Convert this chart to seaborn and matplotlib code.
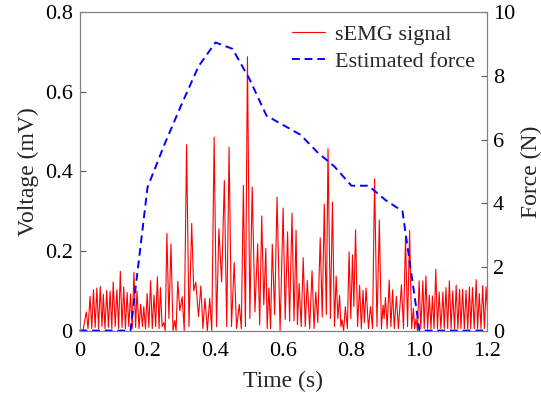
import matplotlib
matplotlib.use("Agg")
import matplotlib.pyplot as plt
import seaborn as sns
import pandas as pd

# sEMG extrema (time in s, voltage in mV)
emg_t = [0.010, 0.020, 0.025, 0.031, 0.036, 0.041, 0.046, 0.051, 0.056, 0.061,
         0.066, 0.070, 0.075, 0.080, 0.085, 0.090, 0.095, 0.099, 0.105, 0.110,
         0.115, 0.120, 0.125, 0.130, 0.135, 0.140, 0.145, 0.150, 0.155, 0.160,
         0.165, 0.169, 0.175, 0.180, 0.185, 0.189, 0.194, 0.199, 0.204, 0.209,
         0.214, 0.219, 0.224, 0.229, 0.234, 0.238, 0.243, 0.248, 0.252, 0.257,
         0.263, 0.269, 0.275, 0.280, 0.284, 0.289, 0.295, 0.302, 0.308, 0.315,
         0.322, 0.330, 0.336, 0.342, 0.350, 0.357, 0.363, 0.369, 0.376, 0.383,
         0.389, 0.396, 0.403, 0.410, 0.418, 0.426, 0.433, 0.440, 0.447, 0.455,
         0.462, 0.470, 0.476, 0.482, 0.488, 0.494, 0.501, 0.508, 0.516, 0.524,
         0.530, 0.536, 0.542, 0.548, 0.552, 0.557, 0.562, 0.567, 0.574, 0.581,
         0.590, 0.599, 0.605, 0.612, 0.618, 0.625, 0.631, 0.637, 0.641, 0.646,
         0.652, 0.658, 0.664, 0.670, 0.677, 0.684, 0.690, 0.695, 0.701, 0.708,
         0.714, 0.720, 0.726, 0.731, 0.738, 0.744, 0.750, 0.755, 0.760, 0.765,
         0.769, 0.772, 0.777, 0.782, 0.788, 0.793, 0.798, 0.803, 0.807, 0.812,
         0.818, 0.824, 0.829, 0.834, 0.838, 0.843, 0.850, 0.856, 0.862, 0.868,
         0.875, 0.882, 0.888, 0.893, 0.896, 0.900, 0.905, 0.911, 0.916, 0.921,
         0.926, 0.932, 0.938, 0.947, 0.953, 0.959, 0.965, 0.971, 0.977, 0.982,
         0.986, 0.990, 0.994, 0.999, 1.004, 1.010, 1.014, 1.019, 1.024, 1.029,
         1.034, 1.038, 1.043, 1.048, 1.053, 1.058, 1.063, 1.069, 1.073, 1.078,
         1.083, 1.088, 1.093, 1.098, 1.103, 1.108, 1.113, 1.118, 1.122, 1.127,
         1.132, 1.137, 1.142, 1.147, 1.151, 1.156, 1.161, 1.167, 1.171, 1.176,
         1.181, 1.186, 1.191, 1.196, 1.200]
emg_v = [0.000, 0.047, 0.005, 0.086, 0.005, 0.103, 0.008, 0.107, 0.005, 0.111,
         0.010, 0.091, 0.005, 0.101, 0.008, 0.099, 0.005, 0.122, 0.010, 0.103,
         0.005, 0.149, 0.008, 0.110, 0.005, 0.096, 0.010, 0.092, 0.005, 0.147,
         0.008, 0.100, 0.005, 0.066, 0.010, 0.060, 0.005, 0.093, 0.008, 0.125,
         0.005, 0.089, 0.010, 0.135, 0.005, 0.108, 0.010, 0.020, 0.000, 0.244,
         0.030, 0.218, 0.000, 0.025, 0.000, 0.124, 0.050, 0.085, 0.000, 0.467,
         0.010, 0.269, 0.100, 0.122, 0.035, 0.112, 0.005, 0.081, 0.000, 0.081,
         0.000, 0.486, 0.010, 0.256, 0.122, 0.377, 0.010, 0.461, 0.010, 0.171,
         0.005, 0.066, 0.005, 0.365, 0.010, 0.688, 0.030, 0.361, 0.047, 0.218,
         0.014, 0.288, 0.065, 0.206, 0.005, 0.107, 0.005, 0.217, 0.040, 0.335,
         0.000, 0.308, 0.028, 0.248, 0.024, 0.295, 0.024, 0.252, 0.015, 0.118,
         0.010, 0.183, 0.010, 0.126, 0.005, 0.150, 0.005, 0.097, 0.020, 0.233,
         0.034, 0.318, 0.040, 0.457, 0.030, 0.323, 0.010, 0.137, 0.030, 0.088,
         0.010, 0.027, 0.000, 0.060, 0.005, 0.198, 0.030, 0.190, 0.060, 0.253,
         0.010, 0.114, 0.005, 0.101, 0.020, 0.107, 0.005, 0.060, 0.005, 0.381,
         0.010, 0.278, 0.005, 0.064, 0.030, 0.083, 0.005, 0.127, 0.010, 0.102,
         0.005, 0.086, 0.005, 0.115, 0.005, 0.235, 0.010, 0.252, 0.005, 0.056,
         0.005, 0.030, 0.000, 0.125, 0.005, 0.125, 0.005, 0.137, 0.005, 0.089,
         0.005, 0.087, 0.005, 0.154, 0.005, 0.097, 0.005, 0.097, 0.005, 0.108,
         0.005, 0.125, 0.005, 0.100, 0.005, 0.114, 0.005, 0.104, 0.005, 0.104,
         0.005, 0.101, 0.005, 0.110, 0.005, 0.108, 0.005, 0.128, 0.005, 0.093,
         0.005, 0.113, 0.005, 0.110, 0.050]

# estimated force (N)
force_t = [0.00, 0.05, 0.10, 0.15, 0.20, 0.25, 0.30, 0.35, 0.40, 0.45, 0.50,
           0.55, 0.60, 0.65, 0.70, 0.75, 0.80, 0.85, 0.90, 0.95, 1.00, 1.05,
           1.10, 1.15, 1.20]
force_v = [0, 0, 0, 0, 4.5, 5.85, 7.1, 8.3, 9.05, 8.85, 7.9,
           6.75, 6.45, 6.15, 5.6, 5.15, 4.55, 4.55, 4.1, 3.75, 0, 0,
           0, 0, 0]

x_ticks = [0, 0.2, 0.4, 0.6, 0.8, 1.0, 1.2]
x_labels = ['0', '0.2', '0.4', '0.6', '0.8', '1.0', '1.2']
v_ticks = [0, 0.2, 0.4, 0.6, 0.8]
v_labels = ['0', '0.2', '0.4', '0.6', '0.8']
f_ticks = [0, 2, 4, 6, 8, 10]

sns.set_style("white")
plt.rcParams['font.family'] = ['Liberation Serif', 'DejaVu Serif']

emg = pd.DataFrame({'t': emg_t, 'v': emg_v})
force = pd.DataFrame({'t': force_t, 'f': force_v})

fig, ax = plt.subplots(figsize=(5.41, 3.94), dpi=100)
fig.subplots_adjust(left=0.147, right=0.901, bottom=0.161, top=0.969)

sns.lineplot(data=emg, x='t', y='v', ax=ax, color='#ff0000', lw=0.8,
             estimator=None, sort=False, label='sEMG signal', legend=False)
ax2 = ax.twinx()
sns.lineplot(data=force, x='t', y='f', ax=ax2, color='#0000ff', lw=1.4,
             linestyle='--', dashes=False, estimator=None, sort=False,
             label='Estimated force', legend=False)
for ln in ax2.get_lines():
    ln.set_dashes([4, 2.5])
    ln.set_clip_on(False)

ax.set_xlim(0, 1.2)
ax.set_ylim(0, 0.8)
ax2.set_ylim(0, 10)
ax.set_xticks(x_ticks)
ax.set_xticklabels(x_labels)
ax.set_yticks(v_ticks)
ax.set_yticklabels(v_labels)
ax2.set_yticks(f_ticks)

for a in (ax, ax2):
    for s in a.spines.values():
        s.set_color('#808080')
        s.set_linewidth(0.8)
ax.tick_params(axis='both', direction='in', length=4, width=0.8,
               color='#555555', labelsize=16, labelcolor='black')
ax.tick_params(axis='x', pad=8)
ax.tick_params(axis='y', pad=5)
ax2.tick_params(axis='y', direction='in', length=4, width=0.8,
                color='#555555', labelsize=16, labelcolor='black', pad=4)

ax.set_xlabel('Time (s)', fontsize=17, labelpad=7)
ax.set_ylabel('Voltage (mV)', fontsize=17, labelpad=4)
ax2.set_ylabel('Force (N)', fontsize=17, labelpad=4)

handles = ax.get_lines()[:1] + ax2.get_lines()[:1]
ax2.legend(handles, ['sEMG signal', 'Estimated force'], loc='upper right',
           frameon=False, fontsize=16, handlelength=1.5, handletextpad=0.45,
           labelspacing=0.3, borderaxespad=0.15)

fig.savefig('out.png', dpi=100)
